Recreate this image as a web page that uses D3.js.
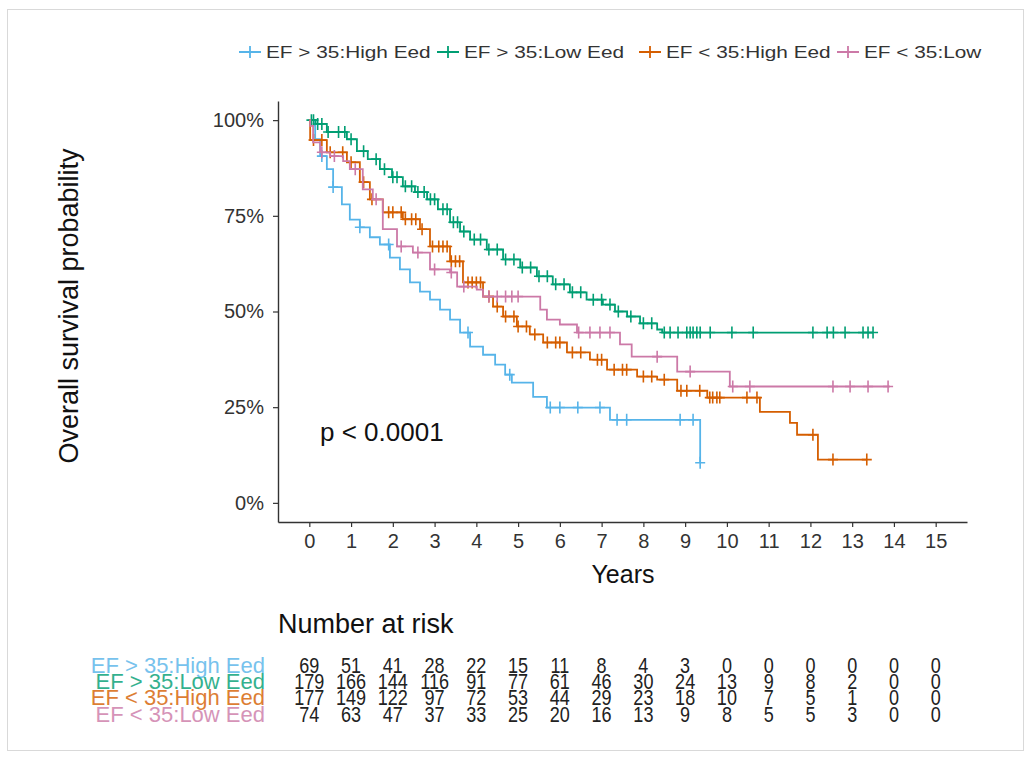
<!DOCTYPE html>
<html>
<head>
<meta charset="utf-8">
<script src="https://cdn.jsdelivr.net/npm/d3@7"></script>
<style>
  body { margin: 0; background: #fff; }
  text { font-family: "Liberation Sans", Arial, sans-serif; }
</style>
</head>
<body>
<div id="chart"></div>
<script>
// Group names / colours
const groupNames = ['EF > 35:High Eed', 'EF > 35:Low Eed', 'EF < 35:High Eed', 'EF < 35:Low Eed'];
const legendLabels = ['EF > 35:High Eed', 'EF > 35:Low Eed', 'EF < 35:High Eed', 'EF < 35:Low'];
const groupColors = ['#56B4E9', '#009E73', '#D55E00', '#CC79A7'];

// Kaplan-Meier steps: [years, survival]
const blueSteps = [[0.14,0.95],[0.26,0.906],[0.42,0.872],[0.57,0.825],[0.78,0.78],[0.97,0.74],[1.21,0.72],[1.45,0.694],[1.69,0.675],[1.93,0.641],[2.17,0.61],[2.41,0.576],[2.65,0.552],[2.89,0.531],[3.13,0.505],[3.37,0.479],[3.61,0.445],[3.85,0.408],[4.16,0.387],[4.45,0.361],[4.69,0.335],[4.85,0.314],[5.36,0.277],[5.69,0.249],[7.2,0.217],[9.36,0.105]];
const greenSteps = [[0.15,0.99],[0.42,0.969],[0.9,0.95],[1.14,0.919],[1.4,0.898],[1.69,0.872],[1.98,0.851],[2.24,0.827],[2.53,0.812],[2.82,0.793],[3.08,0.767],[3.37,0.733],[3.61,0.709],[3.85,0.688],[4.25,0.662],[4.64,0.636],[5.05,0.615],[5.45,0.592],[5.83,0.571],[6.24,0.55],[6.64,0.531],[7.03,0.518],[7.32,0.5],[7.61,0.487],[7.92,0.469],[8.33,0.453],[8.45,0.445]];
const orangeSteps = [[0.02,0.948],[0.42,0.916],[0.9,0.89],[1.21,0.838],[1.45,0.793],[1.76,0.759],[2.24,0.741],[2.65,0.715],[2.89,0.67],[3.37,0.631],[3.68,0.576],[4.16,0.539],[4.4,0.513],[4.64,0.487],[4.97,0.461],[5.28,0.44],[5.6,0.419],[6.17,0.393],[6.72,0.374],[7.13,0.348],[7.85,0.33],[8.33,0.322],[8.81,0.293],[9.53,0.275],[10.79,0.238],[11.51,0.209],[11.68,0.178],[12.18,0.113]];
const pinkSteps = [[0.02,0.985],[0.09,0.942],[0.26,0.916],[0.5,0.906],[0.81,0.893],[0.97,0.872],[1.28,0.819],[1.52,0.793],[1.76,0.715],[2.1,0.67],[2.48,0.654],[2.89,0.61],[3.37,0.602],[3.54,0.565],[4.01,0.557],[4.16,0.539],[5.53,0.505],[5.69,0.479],[6.0,0.466],[6.41,0.445],[7.44,0.414],[7.72,0.382],[8.81,0.343],[10.07,0.304]];
const endTimes = [9.36, 13.5, 13.35, 13.9];

// Censoring times (years)
const blueCensor = [0.3, 0.57, 1.21, 1.9, 3.8, 4.8, 5.77, 6.0, 6.43, 6.96, 7.37, 7.6, 8.88, 9.19, 9.36];
const greenCensor = [0.05, 0.1, 0.2, 0.3, 0.45, 0.7, 0.85, 1.0, 1.3, 1.6, 1.8, 2.0, 2.1, 2.3, 2.45, 2.6, 2.75, 2.9, 3.0, 3.2, 3.3, 3.45, 3.55, 3.7, 3.95, 4.1, 4.3, 4.5, 4.7, 4.9, 5.1, 5.3, 5.5, 5.7, 5.9, 6.1, 6.3, 6.5, 6.8, 7.0, 7.2, 7.4, 7.7, 8.0, 8.2, 8.5, 8.64, 8.83, 9.04, 9.12, 9.19, 9.28, 9.36, 9.6, 10.12, 10.63, 12.06, 12.4, 12.55, 12.83, 13.26, 13.38, 13.5];
const orangeCensor = [0.1, 0.3, 0.5, 0.8, 1.0, 1.3, 1.5, 1.9, 2.0, 2.2, 2.3, 2.45, 2.55, 2.7, 2.95, 3.1, 3.2, 3.3, 3.4, 3.5, 3.6, 3.8, 3.9, 4.0, 4.1, 4.3, 4.5, 4.7, 4.9, 5.0, 5.2, 5.4, 5.7, 5.9, 6.0, 6.3, 6.5, 6.9, 7.0, 7.3, 7.5, 7.6, 8.0, 8.2, 8.5, 8.9, 9.04, 9.35, 9.59, 9.66, 9.76, 9.83, 10.48, 10.72, 12.06, 12.54, 13.35];
const pinkCensor = [0.3, 0.6, 1.1, 1.6, 2.2, 2.6, 3.0, 3.4, 3.7, 4.3, 4.5, 4.7, 4.85, 5.0, 6.45, 6.72, 6.96, 7.2, 8.33, 9.12, 10.14, 10.55, 12.54, 12.95, 13.38, 13.86];

// Axis ticks
const xTicks = [0, 1, 2, 3, 4, 5, 6, 7, 8, 9, 10, 11, 12, 13, 14, 15];
const yTicks = [0, 0.25, 0.5, 0.75, 1];

// Number at risk
const riskTimes = [0, 1, 2, 3, 4, 5, 6, 7, 8, 9, 10, 11, 12, 13, 14, 15];
const riskBlue = [69, 51, 41, 28, 22, 15, 11, 8, 4, 3, 0, 0, 0, 0, 0, 0];
const riskGreen = [179, 166, 144, 116, 91, 77, 61, 46, 30, 24, 13, 9, 8, 2, 0, 0];
const riskOrange = [177, 149, 122, 97, 72, 53, 44, 29, 23, 18, 10, 7, 5, 1, 0, 0];
const riskPink = [74, 63, 47, 37, 33, 25, 20, 16, 13, 9, 8, 5, 5, 3, 0, 0];

const pValueText = 'p < 0.0001';

const series = [
    { steps: blueSteps, censor: blueCensor, risk: riskBlue },
    { steps: greenSteps, censor: greenCensor, risk: riskGreen },
    { steps: orangeSteps, censor: orangeCensor, risk: riskOrange },
    { steps: pinkSteps, censor: pinkCensor, risk: riskPink }
];

const width = 1032, height = 758;
const svg = d3.select('#chart').append('svg')
    .attr('width', width)
    .attr('height', height);

// light frame around the picture
svg.append('rect')
    .attr('x', 7.5).attr('y', 9.5)
    .attr('width', 1016).attr('height', 741)
    .attr('fill', 'none')
    .attr('stroke', '#d9d9d9');

// Scales (ggplot style 5% expansion)
const x = d3.scaleLinear().domain([-0.75, 15.75]).range([278, 967]);
const y = d3.scaleLinear().domain([-0.05, 1.05]).range([522, 101]);

// Axes
const yAxis = d3.axisLeft(y)
    .tickValues(yTicks)
    .tickFormat(d3.format('.0%'))
    .tickSize(5)
    .tickSizeOuter(0)
    .tickPadding(9);

const xAxis = d3.axisBottom(x)
    .tickValues(xTicks)
    .tickFormat(d3.format('d'))
    .tickSize(5)
    .tickSizeOuter(0)
    .tickPadding(7);

const gy = svg.append('g')
    .attr('transform', 'translate(278,0)')
    .call(yAxis);
const gx = svg.append('g')
    .attr('transform', 'translate(0,522)')
    .call(xAxis);

[gx, gy].forEach(g => {
    g.select('.domain').attr('stroke', '#333').attr('stroke-width', 1.4);
    g.selectAll('.tick line').attr('stroke', '#333').attr('stroke-width', 1.2);
    g.selectAll('.tick text')
        .attr('font-size', 20)
        .attr('fill', '#333')
        .style('font-family', '"Liberation Sans", Arial, sans-serif');
});

// Axis titles
svg.append('text')
    .attr('x', 623).attr('y', 583)
    .attr('text-anchor', 'middle')
    .attr('font-size', 25)
    .attr('fill', '#111')
    .text('Years');

svg.append('text')
    .attr('transform', 'translate(78,306) rotate(-90)')
    .attr('text-anchor', 'middle')
    .attr('font-size', 27)
    .attr('fill', '#111')
    .text('Overall survival probability');

// survival at time t
function survAt(steps, t) {
    let s = 1;
    steps.forEach(d => { if (d[0] <= t) s = d[1]; });
    return s;
}

const line = d3.line()
    .x(d => x(d[0]))
    .y(d => y(d[1]))
    .curve(d3.curveStepAfter);

const plot = svg.append('g');

series.forEach((s, i) => {
    const pts = [[0, 1]].concat(s.steps);
    pts.push([endTimes[i], s.steps[s.steps.length - 1][1]]);
    plot.append('path')
        .datum(pts)
        .attr('fill', 'none')
        .attr('stroke', groupColors[i])
        .attr('stroke-width', 1.8)
        .attr('d', line);

    plot.selectAll('.censor' + i)
        .data(s.censor)
        .enter()
        .append('path')
        .attr('class', 'censor' + i)
        .attr('transform', d => `translate(${x(d)},${y(survAt(s.steps, d))})`)
        .attr('d', 'M-5,0H5M0,-6V6')
        .attr('stroke', groupColors[i])
        .attr('stroke-width', 1.6);
});

// p-value
svg.append('text')
    .attr('x', 320).attr('y', 441)
    .attr('font-size', 26)
    .attr('fill', '#111')
    .text(pValueText);

// Legend
const legendX = [250, 448, 650, 848];
const legend = svg.append('g');
legendLabels.forEach((lab, i) => {
    const g = legend.append('g').attr('transform', `translate(${legendX[i]},52)`);
    g.append('path')
        .attr('d', 'M-11,0H11M0,-6V6')
        .attr('stroke', groupColors[i])
        .attr('stroke-width', 1.8);
    g.append('text')
        .attr('transform', 'translate(16,6) scale(1.3,1)')
        .attr('font-size', 16)
        .attr('fill', '#333')
        .text(lab);
});

// Number at risk table
svg.append('text')
    .attr('x', 278).attr('y', 633)
    .attr('font-size', 27)
    .attr('fill', '#111')
    .text('Number at risk');

const rowY = [673, 689, 705, 722];
series.forEach((s, i) => {
    svg.append('text')
        .attr('x', 265).attr('y', rowY[i])
        .attr('text-anchor', 'end')
        .attr('font-size', 22)
        .attr('fill', groupColors[i])
        .attr('opacity', 0.8)
        .text(groupNames[i]);

    svg.selectAll('.risk' + i)
        .data(s.risk)
        .enter()
        .append('text')
        .attr('class', 'risk' + i)
        .attr('transform', (d, j) => `translate(${x(riskTimes[j])},${rowY[i]}) scale(0.82,1)`)
        .attr('text-anchor', 'middle')
        .attr('font-size', 22)
        .attr('fill', '#222')
        .text(d => d);
});
</script>
</body>
</html>
